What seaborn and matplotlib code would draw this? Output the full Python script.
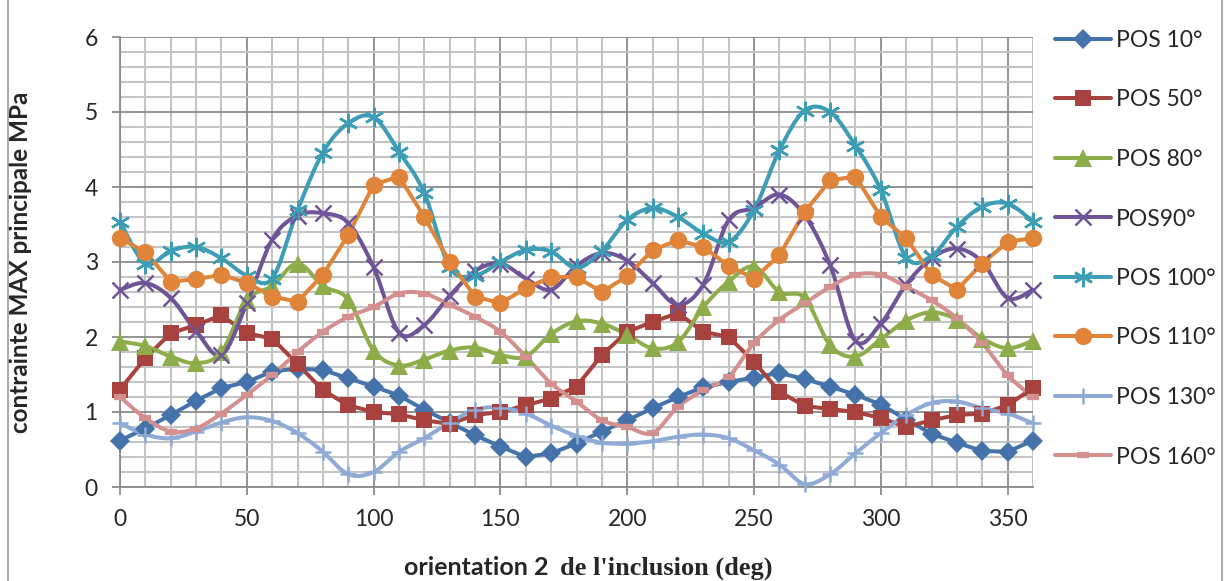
import numpy as np
import pandas as pd
import matplotlib
matplotlib.use("Agg")
import matplotlib.pyplot as plt
from matplotlib.lines import Line2D
from matplotlib.patches import Rectangle
import seaborn as sns

# ---- data -------------------------------------------------------------
angles = list(range(0, 361, 10))

pos10 = [0.62, 0.78, 0.96, 1.15, 1.32, 1.40, 1.54, 1.58, 1.56, 1.45, 1.34, 1.22, 1.03,
         0.86, 0.69, 0.54, 0.40, 0.45, 0.58, 0.74, 0.89, 1.05, 1.20, 1.33, 1.40, 1.46,
         1.52, 1.44, 1.34, 1.23, 1.10, 0.90, 0.71, 0.59, 0.48, 0.47, 0.62]
pos50 = [1.30, 1.72, 2.05, 2.16, 2.29, 2.05, 1.98, 1.64, 1.29, 1.09, 1.00, 0.97, 0.89,
         0.84, 0.96, 1.00, 1.09, 1.18, 1.34, 1.76, 2.07, 2.20, 2.32, 2.07, 2.00, 1.67,
         1.27, 1.08, 1.04, 1.00, 0.92, 0.80, 0.89, 0.96, 0.98, 1.09, 1.32]
pos80 = [1.94, 1.88, 1.74, 1.65, 1.80, 2.49, 2.68, 2.98, 2.68, 2.50, 1.82, 1.62, 1.70,
         1.82, 1.86, 1.76, 1.74, 2.04, 2.21, 2.18, 2.03, 1.85, 1.93, 2.40, 2.74, 2.94,
         2.60, 2.52, 1.89, 1.74, 1.97, 2.22, 2.33, 2.23, 1.98, 1.85, 1.95]
pos90 = [2.63, 2.72, 2.52, 2.08, 1.76, 2.45, 3.30, 3.62, 3.65, 3.52, 2.93, 2.06, 2.16,
         2.55, 2.88, 2.98, 2.78, 2.63, 2.95, 3.12, 3.02, 2.72, 2.43, 2.70, 3.56, 3.72,
         3.90, 3.62, 2.96, 1.95, 2.18, 2.70, 3.05, 3.18, 3.00, 2.52, 2.63]
pos100 = [3.54, 2.98, 3.15, 3.20, 3.05, 2.82, 2.78, 3.69, 4.46, 4.85, 4.93, 4.47, 3.92,
          2.93, 2.82, 3.00, 3.16, 3.14, 2.92, 3.15, 3.56, 3.72, 3.60, 3.38, 3.27, 3.69,
          4.49, 5.02, 5.00, 4.55, 3.96, 3.06, 3.08, 3.47, 3.74, 3.78, 3.54]
pos110 = [3.32, 3.13, 2.74, 2.77, 2.83, 2.72, 2.54, 2.47, 2.83, 3.36, 4.03, 4.14, 3.60,
          3.00, 2.54, 2.45, 2.65, 2.80, 2.80, 2.60, 2.81, 3.16, 3.29, 3.20, 2.95, 2.78,
          3.09, 3.67, 4.09, 4.14, 3.60, 3.32, 2.83, 2.63, 2.98, 3.27, 3.32]
pos130 = [0.85, 0.70, 0.65, 0.74, 0.86, 0.93, 0.88, 0.72, 0.47, 0.17, 0.20, 0.47, 0.65,
          0.86, 1.03, 1.06, 0.98, 0.82, 0.68, 0.59, 0.58, 0.61, 0.67, 0.70, 0.65, 0.49,
          0.30, 0.04, 0.17, 0.45, 0.72, 0.96, 1.12, 1.14, 1.05, 0.98, 0.85]
pos160 = [1.20, 0.92, 0.74, 0.78, 0.98, 1.23, 1.49, 1.80, 2.07, 2.27, 2.40, 2.58, 2.58,
          2.43, 2.27, 2.07, 1.74, 1.38, 1.14, 0.89, 0.80, 0.72, 1.07, 1.29, 1.47, 1.92,
          2.23, 2.45, 2.67, 2.83, 2.83, 2.67, 2.49, 2.25, 1.92, 1.49, 1.20]

series_names = ["POS 10°", "POS 50°", "POS 80°", "POS90°",
                "POS 100°", "POS 110°", "POS 130°", "POS 160°"]
series_values = [pos10, pos50, pos80, pos90, pos100, pos110, pos130, pos160]

# ---- styling ----------------------------------------------------------
styles = [
    dict(color="#4472AB", marker="D", ms=10, mew=0, smooth=False),
    dict(color="#A8423F", marker="s", ms=12, mew=0, smooth=False),
    dict(color="#8DAD4B", marker="^", ms=13, mew=0, smooth=True),
    dict(color="#6F5497", marker="x", ms=11, mew=1.8, smooth=True),
    dict(color="#3C9DB4", marker=(6, 2, 0), ms=14, mew=1.8, smooth=True),
    dict(color="#E0843A", marker="o", ms=12.5, mew=0, smooth=False),
    dict(color="#8FAAD4", marker="+", ms=12, mew=1.8, smooth=True),
    dict(color="#D4908E", marker="_", ms=9, mew=4.5, smooth=True),
]
LW = 2.9


def bezier_curve(xs, ys, steps=24):
    """Smoothed path through the points (cubic Bezier, Catmull-Rom tangents)."""
    x = np.asarray(xs, float)
    y = np.asarray(ys, float)
    P = np.column_stack([x, y])
    Pe = np.vstack([P[:1], P, P[-1:]])
    t = np.linspace(0.0, 1.0, steps, endpoint=False)[:, None]
    pieces = []
    for i in range(len(P) - 1):
        p0, p1, p2, p3 = Pe[i], Pe[i + 1], Pe[i + 2], Pe[i + 3]
        c1 = p1 + (p2 - p0) / 6.0
        c2 = p2 - (p3 - p1) / 6.0
        seg = ((1 - t) ** 3) * p1 + 3 * ((1 - t) ** 2) * t * c1 \
            + 3 * (1 - t) * t ** 2 * c2 + t ** 3 * p2
        pieces.append(seg)
    pieces.append(P[-1:])
    path = np.vstack(pieces)
    return path[:, 0], path[:, 1]


sns.set_style("white")
plt.rcParams["font.family"] = ["Lato", "DejaVu Sans"]

W, H = 1226, 581
fig = plt.figure(figsize=(W / 100, H / 100), dpi=100)
ax = fig.add_axes([120 / W, 1 - 487 / H, (1033 - 120) / W, (487 - 37) / H])

handles = []
for name, vals, st in zip(series_names, series_values, styles):
    df = pd.DataFrame({"angle": angles, "value": vals})
    if st["smooth"]:
        cx, cy = bezier_curve(df["angle"], df["value"])
        curve = pd.DataFrame({"angle": cx, "value": cy})
    else:
        curve = df
    sns.lineplot(data=curve, x="angle", y="value", ax=ax, color=st["color"],
                 lw=LW, sort=False, estimator=None, errorbar=None,
                 legend=False, clip_on=False, zorder=3)
    ax.plot(df["angle"], df["value"], ls="none", marker=st["marker"],
            ms=st["ms"], mew=st["mew"], mfc=st["color"], mec=st["color"],
            clip_on=False, zorder=4)
    handles.append(Line2D([0], [0], color=st["color"], lw=LW,
                          marker=st["marker"], ms=st["ms"], mew=st["mew"],
                          mfc=st["color"], mec=st["color"], label=name))

# ---- axes -------------------------------------------------------------
ax.set_xlim(0, 360)
ax.set_ylim(0, 6)
ax.set_xticks(range(0, 361, 50))
ax.set_xticks(range(0, 361, 10), minor=True)
ax.set_yticks(range(0, 7))
ax.set_yticks(np.arange(0, 6.001, 0.2), minor=True)
ax.set_axisbelow(True)
ax.grid(which="minor", color="#C4C4C4", lw=1.5)
ax.grid(which="major", color="#8A8A8A", lw=1.3)
ax.tick_params(which="minor", length=0)
ax.tick_params(which="major", length=6, width=1.3, color="#8A8A8A",
               labelsize=16.5, pad=10, direction="out")
ax.xaxis.set_ticks_position("bottom")
ax.yaxis.set_ticks_position("left")
for side in ("top", "right"):
    ax.spines[side].set_visible(False)
for side in ("left", "bottom"):
    ax.spines[side].set_color("#8A8A8A")
    ax.spines[side].set_linewidth(1.3)

ax.set_xlabel("")
ax.set_ylabel("contrainte MAX principale MPa", fontsize=17.5, fontweight="bold",
              labelpad=0)
ax.yaxis.set_label_coords((32 - 120) / 913, 0.5)

fig.text(548 / W, 1 - 575 / H, "orientation 2", ha="right", va="baseline",
         fontsize=18, fontweight="bold")
fig.text(560 / W, 1 - 575 / H, "de l'inclusion (deg)", ha="left", va="baseline",
         fontsize=19, fontweight="bold", family=["Liberation Serif", "DejaVu Serif"])

fig.legend(handles=handles, loc="upper left",
           bbox_to_anchor=(1055 / W, 1 - 30 / H), frameon=False,
           fontsize=16.5, handlelength=2.45, handletextpad=0.2,
           labelspacing=1.68, borderpad=0, borderaxespad=0, numpoints=1)

fig.patches.append(Rectangle((8 / W, -0.05), (1222 - 8) / W, 1.1, fill=False,
                             edgecolor="#9A9A9A", lw=1.2,
                             transform=fig.transFigure, figure=fig))

fig.savefig("out.png", dpi=100)
